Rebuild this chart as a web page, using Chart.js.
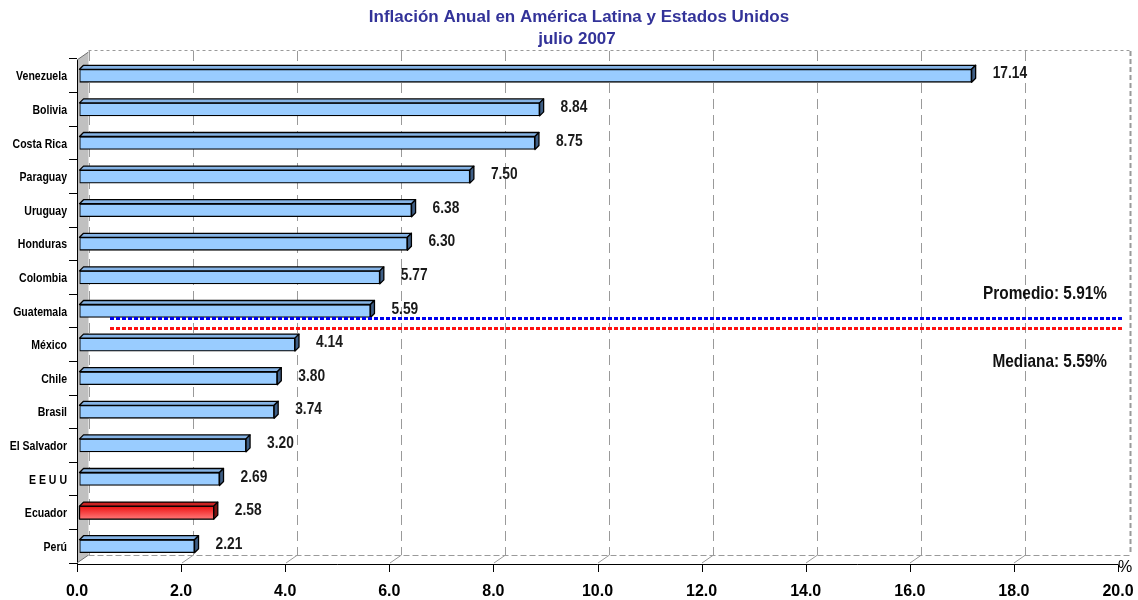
<!DOCTYPE html>
<html>
<head>
<meta charset="utf-8">
<script src="https://cdn.jsdelivr.net/npm/chart.js@4/dist/chart.umd.min.js"></script>
<style>
html,body{margin:0;padding:0;background:#fff;}
canvas{display:block;}
</style>
</head>
<body>
<canvas id="c" width="1138" height="600"></canvas>
<script>
const titleLines = ['Inflación Anual en América Latina y Estados Unidos', 'julio 2007'];
const categories = ['Venezuela','Bolivia','Costa Rica','Paraguay','Uruguay','Honduras','Colombia','Guatemala','México','Chile','Brasil','El Salvador','E E U U','Ecuador','Perú'];
const values = [17.14, 8.84, 8.75, 7.50, 6.38, 6.30, 5.77, 5.59, 4.14, 3.80, 3.74, 3.20, 2.69, 2.58, 2.21];
const highlight = ['Ecuador'];
const meanValue = 5.91;
const medianValue = 5.59;
const meanLabel = 'Promedio: 5.91%';
const medianLabel = 'Mediana: 5.59%';
const xTicks = [0, 2, 4, 6, 8, 10, 12, 14, 16, 18, 20];
const unitLabel = '%';

const SANS = '"Liberation Sans", Arial, sans-serif';
const NARROW_X = 0.81;     // horizontal squeeze to imitate Arial Narrow
const DX = 11.5, DY = 8;   // back-plane depth
const BD = 4;              // bar depth
const SHIFT = 2.5;         // bars sit slightly in front of the wall

function narrowText(ctx, text, x, y, align, font, color) {
  ctx.save();
  ctx.font = font;
  ctx.fillStyle = color;
  ctx.textAlign = align;
  ctx.textBaseline = 'middle';
  ctx.translate(x, y);
  ctx.scale(NARROW_X, 1);
  ctx.fillText(text, 0, 0);
  ctx.restore();
}

const deco = {
  id: 'deco',
  beforeDatasetsDraw(chart) {
    const {ctx, chartArea: a, scales: {x, y}} = chart;
    ctx.save();
    // left wall
    ctx.fillStyle = '#c0c0c0';
    ctx.beginPath();
    ctx.moveTo(a.left, a.top + 1);
    ctx.lineTo(a.left + DX, a.top - DY + 1);
    ctx.lineTo(a.left + DX, a.bottom - DY);
    ctx.lineTo(a.left, a.bottom);
    ctx.closePath();
    ctx.fill();
    ctx.strokeStyle = '#000';
    ctx.lineWidth = 1;
    ctx.beginPath();
    ctx.moveTo(a.left + 0.5, a.top + 1);
    ctx.lineTo(a.left + 0.5, a.bottom + 1);
    ctx.stroke();
    ctx.strokeStyle = '#707070';
    ctx.beginPath();
    ctx.moveTo(a.left, a.top + 1);
    ctx.lineTo(a.left + DX, a.top - DY + 1);
    ctx.stroke();
    ctx.beginPath();
    ctx.moveTo(a.left, a.bottom);
    ctx.lineTo(a.left + DX, a.bottom - DY);
    ctx.stroke();
    // back vertical gridlines
    ctx.strokeStyle = '#9a9a9a';
    ctx.lineWidth = 1;
    xTicks.forEach((v, i) => {
      if (i === xTicks.length - 1) return;
      const px = Math.round(x.getPixelForValue(v) + DX) + 0.5;
      ctx.setLineDash([10, 6]);
      ctx.beginPath();
      ctx.moveTo(px, a.top - DY);
      ctx.lineTo(px, a.bottom - DY);
      ctx.stroke();
      ctx.setLineDash([]);
      if (i > 0) {
        ctx.beginPath();
        ctx.moveTo(px - DX, a.bottom);
        ctx.lineTo(px, a.bottom - DY);
        ctx.stroke();
      }
    });
    // top border
    ctx.setLineDash([3, 3]);
    ctx.strokeStyle = '#9a9a9a';
    ctx.beginPath();
    ctx.moveTo(a.left + DX, a.top - DY - 0.5);
    ctx.lineTo(a.right + DX, a.top - DY - 0.5);
    ctx.stroke();
    // bottom back edge
    ctx.setLineDash([6, 3]);
    ctx.beginPath();
    ctx.moveTo(a.left + DX, a.bottom - DY + 0.5);
    ctx.lineTo(a.right + DX, a.bottom - DY + 0.5);
    ctx.stroke();
    // right border
    ctx.lineWidth = 2;
    ctx.setLineDash([5, 3]);
    ctx.beginPath();
    ctx.moveTo(a.right + DX + 1, a.top - DY);
    ctx.lineTo(a.right + DX + 1, a.bottom - DY);
    ctx.stroke();
    ctx.setLineDash([]);
    ctx.restore();

    // category labels
    categories.forEach((c, i) => {
      narrowText(ctx, c, a.left - 10, y.getPixelForValue(i) + 1, 'right', 'bold 13px ' + SANS, '#000');
    });

    ctx.save();
    ctx.translate(SHIFT, 0);
  },
  afterDatasetsDraw(chart) {
    const {ctx, chartArea: a, scales: {x, y}} = chart;
    const meta = chart.getDatasetMeta(0);
    meta.data.forEach((bar, i) => {
      const hi = highlight.includes(categories[i]);
      const h = bar.height;
      const top = bar.y - h / 2, bot = bar.y + h / 2;
      const base = bar.base, end = bar.x;
      if (hi) {
        const g = ctx.createLinearGradient(0, top, 0, bot);
        g.addColorStop(0, '#ee1111');
        g.addColorStop(1, '#ff7777');
        ctx.fillStyle = g;
        ctx.fillRect(base, top, end - base, h);
        ctx.strokeStyle = '#000';
        ctx.lineWidth = 1.3;
        ctx.strokeRect(base, top, end - base, h);
      }
      ctx.lineWidth = 1.3;
      ctx.strokeStyle = '#000';
      ctx.lineJoin = 'round';
      // top face
      ctx.fillStyle = hi ? '#cc2222' : '#86b4e6';
      ctx.beginPath();
      ctx.moveTo(base, top);
      ctx.lineTo(base + BD, top - BD);
      ctx.lineTo(end + BD, top - BD);
      ctx.lineTo(end, top);
      ctx.closePath();
      ctx.fill(); ctx.stroke();
      // right face
      ctx.fillStyle = hi ? '#7a1010' : '#3f5f86';
      ctx.beginPath();
      ctx.moveTo(end, top);
      ctx.lineTo(end + BD, top - BD);
      ctx.lineTo(end + BD, bot - BD);
      ctx.lineTo(end, bot);
      ctx.closePath();
      ctx.fill(); ctx.stroke();
      // value label
      narrowText(ctx, values[i].toFixed(2), end + BD + 17, bar.y - 2, 'left', 'bold 17px ' + SANS, '#1a1a1a');
    });
    ctx.restore();

    ctx.save();
    // mean / median lines (placed between Guatemala and México bands)
    const band = y.getPixelForValue(1) - y.getPixelForValue(0);
    const gi = categories.indexOf('Guatemala');
    const yMean = Math.round(y.getPixelForValue(gi) + band * 0.22) + 0.5;
    const yMed = Math.round(y.getPixelForValue(gi) + band * 0.51) + 0.5;
    const xStart = x.getPixelForValue(0) + 33;
    const xEnd = x.getPixelForValue(20) + 5;
    ctx.lineWidth = 3;
    ctx.setLineDash([4, 2]);
    ctx.strokeStyle = '#0000ee';
    ctx.beginPath(); ctx.moveTo(xStart, yMean); ctx.lineTo(xEnd, yMean); ctx.stroke();
    ctx.strokeStyle = '#ff1111';
    ctx.beginPath(); ctx.moveTo(xStart, yMed); ctx.lineTo(xEnd, yMed); ctx.stroke();
    ctx.setLineDash([]);
    narrowText(ctx, meanLabel, a.right - 11, yMean - 25, 'right', 'bold 19px ' + SANS, '#111');
    narrowText(ctx, medianLabel, a.right - 11, yMed + 33, 'right', 'bold 19px ' + SANS, '#111');

    // x axis line + ticks
    ctx.strokeStyle = '#000';
    ctx.lineWidth = 1;
    ctx.beginPath();
    ctx.moveTo(a.left, a.bottom + 1.5);
    ctx.lineTo(a.right, a.bottom + 1.5);
    ctx.stroke();
    xTicks.forEach(v => {
      const px = Math.round(x.getPixelForValue(v)) + 0.5;
      ctx.beginPath();
      ctx.moveTo(px, a.bottom + 1.5);
      ctx.lineTo(px, a.bottom + 9);
      ctx.stroke();
    });
    ctx.fillStyle = '#000';
    ctx.font = '16px ' + SANS;
    ctx.textAlign = 'center';
    ctx.textBaseline = 'middle';
    ctx.fillText(unitLabel, a.right + 7, a.bottom + 5);

    // title
    ctx.fillStyle = '#333399';
    ctx.font = 'bold 17px ' + SANS;
    ctx.textAlign = 'center';
    ctx.textBaseline = 'middle';
    ctx.fillText(titleLines[0], 579, 17);
    ctx.fillText(titleLines[1], 577, 39);
    ctx.restore();
  }
};

new Chart(document.getElementById('c'), {
  type: 'bar',
  data: {
    labels: categories,
    datasets: [{
      data: values,
      backgroundColor: categories.map(c => highlight.includes(c) ? '#ff3333' : '#99ccff'),
      borderColor: '#000',
      borderWidth: 1.3,
      borderSkipped: false,
      barThickness: 13
    }]
  },
  options: {
    indexAxis: 'y',
    responsive: false,
    animation: false,
    devicePixelRatio: 1,
    layout: {padding: {top: 59, right: 20, bottom: 0, left: 0}},
    plugins: {legend: {display: false}, title: {display: false}, tooltip: {enabled: false}},
    scales: {
      x: {
        min: 0, max: 20,
        afterBuildTicks: s => { s.ticks = xTicks.map(v => ({value: v})); },
        ticks: {
          callback: v => Number(v).toFixed(1),
          font: {family: SANS, size: 16, weight: 'bold'},
          color: '#000',
          padding: 11,
          maxRotation: 0,
          autoSkip: false
        },
        grid: {display: false},
        border: {display: false},
        afterFit: s => { s.height = 37; s.paddingLeft = 0; s.paddingRight = 0; }
      },
      y: {
        ticks: {display: false},
        grid: {drawOnChartArea: false, drawTicks: true, tickLength: 8, offset: true, color: '#000'},
        border: {display: false},
        afterFit: s => { s.width = 77; }
      }
    }
  },
  plugins: [deco]
});
</script>
</body>
</html>
